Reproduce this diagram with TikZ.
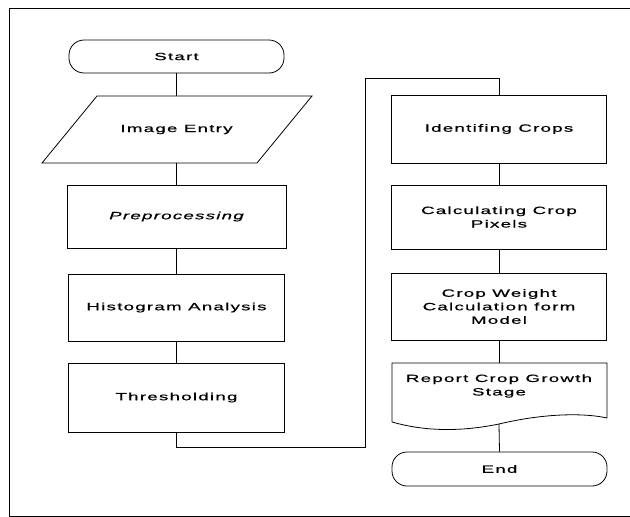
\documentclass[tikz,border=0pt]{standalone}
\usepackage{fontspec}
\setmainfont{Liberation Sans}[FakeStretch=1.78, LetterSpace=12, FakeBold=0.8]
\begin{document}
\begin{tikzpicture}[x=1pt,y=-1pt,
  box/.style={draw, line width=0.8pt, inner sep=0pt, align=center,
    font=\fontsize{10.5}{13.5}\selectfont},
  term/.style={box, rounded corners=15pt},
  ghost/.style={box, draw=none},
  link/.style={line width=0.8pt}]
\useasboundingbox (0,0) rectangle (630,517);
% frame
\draw[line width=1pt] (630,8) -- (9,8) -- (9,516) -- (630,516);
% left column
\node[term, minimum width=215pt, minimum height=33pt] (start) at (176.5,56.5) {Start};
\node[ghost, minimum width=160pt, minimum height=67pt] (entry) at (176.5,129.5) {Image Entry};
\draw[line width=0.8pt] (97,96) -- (312,96) -- (257,163) -- (42,163) -- cycle;
\node[box, minimum width=219pt, minimum height=63pt] (pre) at (176.5,216.5) {\itshape Preprocessing};
\node[box, minimum width=216pt, minimum height=67pt] (hist) at (176.5,307.5) {Histogram Analysis};
\node[box, minimum width=216pt, minimum height=69pt] (thr) at (176.5,397.5) {Thresholding};
% right column
\node[box, minimum width=215pt, minimum height=68pt] (ident) at (499,129) {Identifing Crops};
\node[box, minimum width=215pt, minimum height=64pt] (calc) at (499,217) {Calculating Crop\\Pixels};
\node[box, minimum width=215pt, minimum height=67pt] (weight) at (499,306.5) {Crop Weight\\Calculation form\\Model};
\node[ghost, minimum width=200pt, minimum height=40pt] (report) at (499,386) {Report Crop Growth\\Stage};
\draw[line width=0.8pt] (392,422) -- (392,363) -- (607,363) -- (607,418)
  .. controls (585,413) and (545,413) .. (499,424)
  .. controls (455,433) and (420,430) .. (392,422);
\coordinate (repb) at (499,424);
\node[term, minimum width=215pt, minimum height=34pt] (end) at (499.5,469) {End};
% connectors
\draw[link] (start.south) -- (entry.north);
\draw[link] (entry.south) -- (pre.north);
\draw[link] (pre.south) -- (hist.north);
\draw[link] (hist.south) -- (thr.north);
\coordinate (ca) at (365,447);
\coordinate (cb) at (365,78);
\draw[link] (thr.south) |- (ca) -- (cb) -| (ident.north);
\draw[link] (ident.south) -- (calc.north);
\draw[link] (calc.south) -- (weight.north);
\draw[link] (weight.south) -- (report.north |- 363,363);
\draw[link] (repb) -- (end.north);
\end{tikzpicture}
\end{document}
